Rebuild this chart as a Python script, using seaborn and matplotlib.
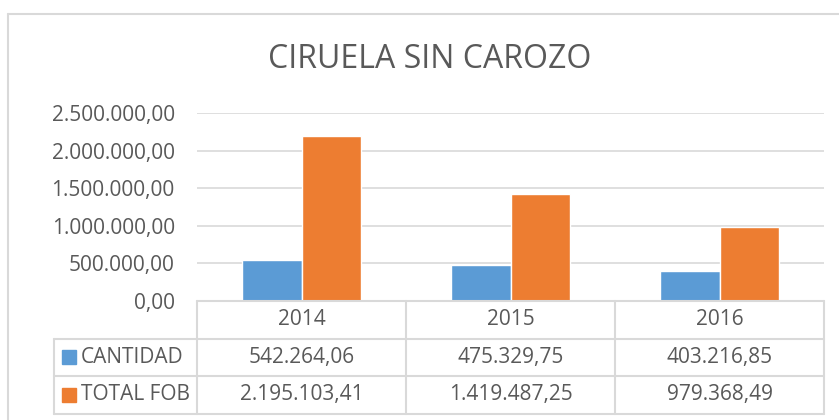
import numpy as np
import pandas as pd
import matplotlib
matplotlib.use("Agg")
import matplotlib.pyplot as plt
import matplotlib.transforms as mtransforms
from matplotlib.lines import Line2D
from matplotlib.patches import Rectangle
import seaborn as sns

years = ["2014", "2015", "2016"]
series = ["CANTIDAD", "TOTAL FOB"]
cantidad = [542264.06, 475329.75, 403216.85]
total_fob = [2195103.41, 1419487.25, 979368.49]
colors = {"CANTIDAD": "#5b9bd5", "TOTAL FOB": "#ed7d31"}
TEXT = "#595959"
GRID = "#d9d9d9"


def fmt_es(v):
    s = f"{v:,.2f}"
    return s.replace(",", "X").replace(".", ",").replace("X", ".")


df = pd.DataFrame({
    "year": years * 2,
    "serie": [series[0]] * 3 + [series[1]] * 3,
    "value": cantidad + total_fob,
})

sns.set_theme(style="white")
plt.rcParams["font.family"] = ["Open Sans", "DejaVu Sans"]

W, H = 839, 420
fig = plt.figure(figsize=(W / 100, H / 100), dpi=100)
ax = fig.add_axes([197 / W, 1 - 301 / H, (824 - 197) / W, (301 - 113) / H])

sns.barplot(data=df, x="year", y="value", hue="serie", palette=colors,
            width=0.574, gap=0, saturation=1, ax=ax, legend=False)

ax.set_xlim(-0.5, 2.5)
ax.set_ylim(0, 2500000)
ax.set_yticks(np.arange(0, 2500001, 500000))
ax.set_yticklabels([fmt_es(v) for v in ax.get_yticks()], color=TEXT, fontsize=15)
ax.tick_params(axis="y", length=0, pad=16)
ax.set_xticks([])
ax.set_xlabel("")
ax.set_ylabel("")
ax.grid(axis="y", color=GRID, linewidth=1.2)
ax.set_axisbelow(True)
for s in ax.spines.values():
    s.set_visible(False)

fig.text(430 / W, 1 - 59 / H, "CIRUELA SIN CAROZO", ha="center", va="center",
         fontsize=23, color=TEXT)

# data table below the axes: x in data units, y in axes fraction
tr = mtransforms.blended_transform_factory(ax.transData, ax.transAxes)
row_h = 37.5 / 188
left_x = -0.5 - (197 - 54) / 209
lw = 1.5
rows_y = [0, -row_h, -2 * row_h, -3 * row_h]

# horizontal lines
ax.add_line(Line2D([-0.5, 2.5], [0, 0], transform=tr, color=GRID, lw=lw, clip_on=False))
for y in rows_y[1:]:
    ax.add_line(Line2D([left_x, 2.5], [y, y], transform=tr, color=GRID, lw=lw, clip_on=False))
# vertical lines
for x in [-0.5, 0.5, 1.5, 2.5]:
    ax.add_line(Line2D([x, x], [0, rows_y[-1]], transform=tr, color=GRID, lw=lw, clip_on=False))
ax.add_line(Line2D([left_x, left_x], [rows_y[1], rows_y[-1]], transform=tr, color=GRID, lw=lw, clip_on=False))

for i, yr in enumerate(years):
    ax.text(i, -row_h / 2, yr, transform=tr, ha="center", va="center", fontsize=15, color=TEXT)
for r, (name, vals) in enumerate(zip(series, [cantidad, total_fob])):
    yc = -row_h * (r + 1.5)
    for i, v in enumerate(vals):
        ax.text(i, yc, fmt_es(v), transform=tr, ha="center", va="center", fontsize=15, color=TEXT)
    sq = 14 / 209
    ax.add_patch(Rectangle((left_x + 8 / 209, yc - 0.5 * 14 / 188), sq, 14 / 188,
                           transform=tr, color=colors[name], clip_on=False))
    ax.text(left_x + 27 / 209, yc, name, transform=tr, ha="left", va="center",
            fontsize=15, color=TEXT)

# chart frame (left and top edges visible)
fig.add_artist(Line2D([8 / W, 8 / W], [0, 1 - 14 / H], transform=fig.transFigure, color=GRID, lw=1.5))
fig.add_artist(Line2D([8 / W, 1], [1 - 14 / H, 1 - 14 / H], transform=fig.transFigure, color=GRID, lw=1.5))

fig.savefig("out.png", dpi=100, facecolor="white")
